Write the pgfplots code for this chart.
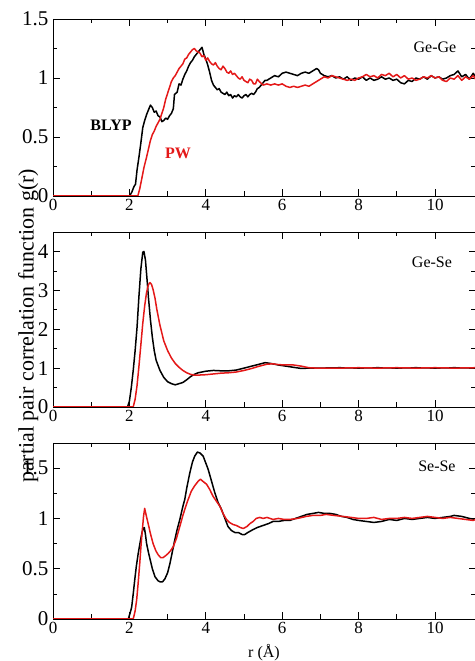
\documentclass[border=0pt]{standalone}
\usepackage{pgfplots}
\pgfplotsset{compat=1.18}
\usepackage{fontspec}
\setmainfont{Liberation Serif}
\definecolor{pwred}{RGB}{228,24,24}

\pgfplotsset{
  gpanel/.style={
    scale only axis, width=422.5pt,
    xmin=0, xmax=11.06,
    xtick={0,2,4,6,8,10}, minor x tick num=1,
    minor y tick num=1,
    tick align=inside,
    major tick length=7pt, minor tick length=4.5pt,
    every tick/.style={black, line width=0.7pt},
    axis line style={line width=0.8pt},
    /pgf/number format/assume math mode=true,
    yticklabel style={font=\fontsize{21}{21}\selectfont, xshift=-1pt},
    xticklabel style={font=\fontsize{17}{17}\selectfont},
    every axis plot/.append style={line width=1.5pt, line join=round},
  },
}

\begin{document}
\begin{tikzpicture}[x=1pt,y=1pt]
\useasboundingbox (0,0) rectangle (474,661);

% Ge-Ge
\begin{axis}[gpanel, at={(53pt,465pt)}, anchor=south west, height=177pt,
  ymin=0, ymax=1.5, ytick={0,0.5,1,1.5}]
\addplot[black] coordinates {
(0,0)(2.0,0)(2.06,0.03)(2.12,0.08)(2.16,0.1)(2.2,0.22)(2.25,0.33)(2.3,0.45)(2.35,0.58)(2.4,0.64)
(2.45,0.69)(2.5,0.73)(2.55,0.77)(2.6,0.75)(2.65,0.71)(2.7,0.72)(2.75,0.68)(2.8,0.67)(2.85,0.63)
(2.9,0.64)(2.95,0.66)(3.0,0.65)(3.05,0.68)(3.1,0.7)(3.15,0.74)(3.18,0.86)(3.25,0.88)(3.3,0.95)
(3.35,0.94)(3.4,0.99)(3.45,1.03)(3.5,1.06)(3.55,1.1)(3.6,1.13)(3.65,1.15)(3.7,1.18)(3.75,1.2)
(3.8,1.22)(3.85,1.24)(3.9,1.26)(3.95,1.2)(4.0,1.16)(4.05,1.11)(4.1,1.05)(4.15,0.98)(4.2,0.94)
(4.25,0.92)(4.3,0.9)(4.35,0.91)(4.4,0.88)(4.45,0.87)(4.5,0.86)(4.55,0.88)(4.6,0.85)(4.65,0.86)
(4.7,0.83)(4.75,0.85)(4.8,0.84)(4.85,0.86)(4.9,0.84)(4.95,0.83)(5.0,0.85)(5.05,0.86)(5.1,0.84)
(5.15,0.86)(5.2,0.87)(5.25,0.86)(5.3,0.88)(5.35,0.91)(5.4,0.92)(5.5,0.96)(5.55,0.98)(5.6,0.98)
(5.7,1.0)(5.8,1.02)(5.9,1.01)(6.0,1.04)(6.1,1.05)(6.2,1.04)(6.3,1.03)(6.4,1.02)(6.5,1.04)
(6.6,1.05)(6.7,1.04)(6.8,1.06)(6.9,1.08)(6.95,1.07)(7.0,1.04)(7.1,1.02)(7.2,1.01)(7.3,1.02)
(7.4,1.0)(7.5,1.01)(7.6,0.99)(7.7,1.01)(7.8,0.98)(7.9,1.0)(8.0,0.99)(8.1,1.01)(8.2,0.98)
(8.3,1.0)(8.4,0.98)(8.5,0.99)(8.6,1.01)(8.7,0.99)(8.8,1.0)(8.9,0.98)(9.0,0.99)(9.1,0.96)
(9.2,0.95)(9.3,0.98)(9.4,0.97)(9.5,1.0)(9.6,0.99)(9.7,1.01)(9.8,0.99)(9.9,1.02)(10.0,1.0)
(10.1,1.01)(10.2,0.99)(10.3,1.0)(10.4,1.02)(10.5,1.03)(10.6,1.06)(10.7,1.01)(10.8,1.03)
(10.9,0.99)(11.0,1.04)(11.06,1.01)};
\addplot[pwred] coordinates {
(0,0)(2.22,0)(2.27,0.06)(2.32,0.14)(2.38,0.24)(2.45,0.33)(2.5,0.4)(2.55,0.47)(2.6,0.52)
(2.65,0.55)(2.7,0.59)(2.75,0.62)(2.8,0.65)(2.85,0.7)(2.9,0.75)(2.95,0.82)(3.0,0.87)(3.05,0.92)
(3.1,0.97)(3.15,1.0)(3.2,1.02)(3.25,1.05)(3.3,1.08)(3.35,1.1)(3.4,1.12)(3.45,1.16)(3.5,1.17)
(3.55,1.2)(3.6,1.22)(3.65,1.24)(3.7,1.25)(3.75,1.23)(3.8,1.22)(3.85,1.21)(3.9,1.18)(3.95,1.19)
(4.0,1.15)(4.05,1.17)(4.1,1.14)(4.15,1.12)(4.2,1.11)(4.25,1.13)(4.3,1.1)(4.35,1.08)(4.4,1.07)
(4.45,1.1)(4.5,1.08)(4.55,1.05)(4.6,1.04)(4.65,1.06)(4.7,1.03)(4.75,1.04)(4.8,1.02)(4.85,1.0)
(4.9,0.99)(4.95,1.01)(5.0,0.98)(5.05,0.97)(5.1,0.96)(5.15,0.99)(5.2,0.98)(5.25,0.95)(5.3,0.95)
(5.35,0.99)(5.4,0.97)(5.5,0.94)(5.6,0.95)(5.7,0.94)(5.8,0.95)(5.9,0.94)(6.0,0.95)(6.1,0.93)
(6.2,0.92)(6.3,0.93)(6.4,0.92)(6.5,0.93)(6.6,0.94)(6.7,0.93)(6.8,0.95)(6.9,0.97)(7.0,0.99)
(7.1,1.01)(7.2,1.0)(7.3,1.02)(7.4,1.01)(7.5,1.0)(7.6,0.99)(7.7,0.98)(7.8,0.99)(7.9,0.98)
(8.0,1.0)(8.1,1.01)(8.2,1.03)(8.3,1.01)(8.4,1.02)(8.5,1.0)(8.6,1.03)(8.7,1.02)(8.8,1.04)
(8.9,1.01)(9.0,1.03)(9.1,1.0)(9.2,1.02)(9.3,0.99)(9.4,1.0)(9.5,0.98)(9.6,0.99)(9.7,1.01)
(9.8,1.0)(9.9,1.02)(10.0,1.0)(10.1,1.01)(10.2,0.98)(10.3,0.97)(10.4,1.0)(10.5,0.99)(10.6,1.02)
(10.7,0.98)(10.8,1.01)(10.9,0.99)(11.0,1.02)(11.06,0.99)};
\node[font=\fontsize{16}{16}\selectfont] at (axis cs:10.0,1.26) {Ge-Ge};
\node[font=\fontsize{16}{16}\selectfont\bfseries] at (axis cs:1.52,0.60) {BLYP};
\node[font=\fontsize{16}{16}\selectfont\bfseries, text=pwred] at (axis cs:3.27,0.36) {PW};
\end{axis}

% Ge-Se
\begin{axis}[gpanel, at={(53pt,254pt)}, anchor=south west, height=175pt,
  ymin=0, ymax=4.5, ytick={0,1,2,3,4}]
\addplot[black] coordinates {
(0,0)(1.95,0)(2.0,0.15)(2.05,0.5)(2.1,0.94)(2.15,1.45)(2.2,2.05)(2.25,2.85)(2.3,3.55)(2.35,3.98)
(2.38,4.0)(2.42,3.78)(2.46,3.3)(2.5,2.8)(2.55,2.25)(2.6,1.8)(2.65,1.45)(2.7,1.2)(2.8,0.94)
(2.9,0.76)(3.0,0.65)(3.1,0.6)(3.2,0.57)(3.3,0.6)(3.4,0.63)(3.5,0.7)(3.6,0.78)(3.7,0.84)
(3.8,0.88)(4.0,0.92)(4.2,0.94)(4.4,0.93)(4.6,0.93)(4.8,0.95)(5.0,1.0)(5.2,1.05)(5.4,1.1)
(5.55,1.14)(5.7,1.12)(5.9,1.08)(6.1,1.05)(6.3,1.02)(6.5,0.99)(6.7,1.0)(7.0,1.0)(7.5,1.01)
(8.0,1.0)(8.5,1.01)(9.0,1.0)(9.5,1.01)(10.0,1.0)(10.5,1.01)(11.06,1.0)};
\addplot[pwred] coordinates {
(0,0)(2.1,0)(2.15,0.2)(2.2,0.55)(2.25,1.05)(2.3,1.6)(2.35,2.15)(2.4,2.6)(2.45,2.95)(2.5,3.15)
(2.54,3.2)(2.58,3.15)(2.62,3.02)(2.67,2.8)(2.72,2.5)(2.8,2.1)(2.9,1.7)(3.0,1.45)(3.1,1.26)
(3.2,1.12)(3.3,1.02)(3.4,0.94)(3.5,0.88)(3.6,0.84)(3.7,0.82)(3.8,0.82)(4.0,0.83)(4.2,0.85)
(4.4,0.87)(4.6,0.88)(4.8,0.9)(5.0,0.94)(5.2,0.99)(5.4,1.05)(5.6,1.1)(5.75,1.11)(5.9,1.09)
(6.1,1.08)(6.3,1.08)(6.5,1.05)(6.7,1.01)(6.9,1.0)(7.5,1.0)(8.0,1.01)(8.5,1.0)(9.0,1.01)
(9.5,1.0)(10.0,1.01)(10.5,1.0)(11.06,1.01)};
\node[font=\fontsize{16}{16}\selectfont] at (axis cs:9.92,3.72) {Ge-Se};
\end{axis}

% Se-Se
\begin{axis}[gpanel, at={(53pt,42pt)}, anchor=south west, height=176pt,
  ymin=0, ymax=1.75, ytick={0,0.5,1,1.5}]
\addplot[black] coordinates {
(0,0)(1.97,0)(2.02,0.06)(2.06,0.12)(2.1,0.25)(2.14,0.39)(2.18,0.52)(2.23,0.65)(2.28,0.76)
(2.32,0.84)(2.36,0.9)(2.39,0.91)(2.42,0.84)(2.45,0.75)(2.5,0.66)(2.55,0.58)(2.6,0.5)(2.67,0.42)
(2.75,0.38)(2.8,0.37)(2.87,0.37)(2.93,0.4)(3.0,0.46)(3.06,0.55)(3.12,0.66)(3.19,0.79)(3.25,0.89)
(3.32,0.99)(3.4,1.12)(3.45,1.19)(3.5,1.3)(3.58,1.45)(3.65,1.56)(3.71,1.62)(3.78,1.66)(3.85,1.65)
(3.93,1.62)(4.0,1.55)(4.06,1.49)(4.15,1.37)(4.24,1.25)(4.32,1.16)(4.41,1.09)(4.5,1.0)(4.58,0.92)
(4.67,0.88)(4.76,0.86)(4.85,0.86)(4.95,0.84)(5.02,0.84)(5.1,0.86)(5.24,0.89)(5.35,0.91)(5.5,0.93)
(5.65,0.95)(5.76,0.97)(5.9,0.97)(6.05,0.98)(6.2,0.98)(6.35,1.0)(6.5,1.02)(6.65,1.04)(6.81,1.05)
(6.95,1.06)(7.1,1.05)(7.24,1.05)(7.4,1.04)(7.55,1.02)(7.7,1.01)(7.85,0.99)(8.0,0.98)(8.2,0.97)
(8.4,0.96)(8.6,0.97)(8.8,0.99)(9.0,0.98)(9.2,1.0)(9.4,0.99)(9.6,1.0)(9.8,1.01)(10.0,1.0)
(10.2,1.01)(10.4,1.02)(10.5,1.03)(10.7,1.02)(10.9,1.0)(11.06,0.99)};
\addplot[pwred] coordinates {
(0,0)(2.1,0)(2.15,0.08)(2.19,0.19)(2.23,0.36)(2.27,0.55)(2.31,0.76)(2.34,0.89)(2.37,1.02)
(2.4,1.1)(2.44,1.03)(2.49,0.95)(2.55,0.85)(2.62,0.75)(2.69,0.68)(2.75,0.64)(2.82,0.61)(2.88,0.61)
(2.95,0.63)(3.01,0.65)(3.08,0.68)(3.15,0.72)(3.23,0.8)(3.32,0.92)(3.4,1.03)(3.45,1.09)(3.53,1.18)
(3.62,1.27)(3.7,1.32)(3.8,1.37)(3.86,1.39)(3.92,1.37)(4.02,1.34)(4.1,1.29)(4.19,1.22)(4.28,1.17)
(4.37,1.12)(4.45,1.05)(4.54,0.99)(4.62,0.96)(4.71,0.94)(4.8,0.93)(4.9,0.91)(4.98,0.9)(5.08,0.92)
(5.16,0.95)(5.24,0.97)(5.32,1.0)(5.41,1.01)(5.5,1.0)(5.6,1.01)(5.76,0.99)(5.9,1.0)(6.05,0.99)
(6.2,0.99)(6.4,1.0)(6.63,1.02)(6.8,1.03)(7.0,1.03)(7.15,1.04)(7.35,1.03)(7.59,1.02)(7.8,1.01)
(8.0,1.0)(8.2,1.0)(8.4,1.01)(8.6,0.99)(8.8,1.0)(9.0,1.0)(9.2,1.01)(9.4,1.0)(9.6,1.01)(9.8,1.02)
(10.0,1.01)(10.2,1.0)(10.4,1.01)(10.6,1.0)(10.8,0.99)(11.0,0.98)(11.06,0.99)};
\node[font=\fontsize{16}{16}\selectfont] at (axis cs:10.05,1.52) {Se-Se};
\end{axis}

\node[rotate=90, anchor=base, font=\fontsize{22}{22}\selectfont] at (33.5,335) {partial pair correlation function g(r)};
\node[anchor=base, font=\fontsize{16}{16}\selectfont] at (264,3) {r (Å)};
\end{tikzpicture}
\end{document}
